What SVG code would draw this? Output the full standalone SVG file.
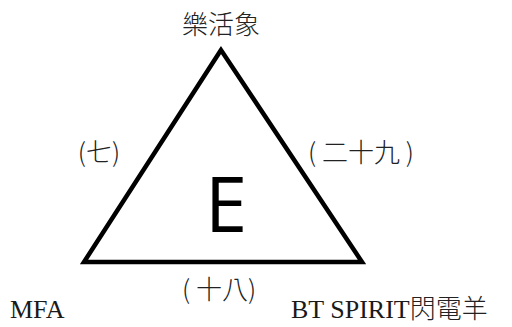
<svg xmlns="http://www.w3.org/2000/svg" width="512" height="327" viewBox="0 0 512 327">
<style>
.t{font-family:"Liberation Serif","Noto Sans CJK TC",serif;font-size:26px;fill:#1a1a1a}
.c{font-family:"Noto Sans CJK TC","Liberation Serif",serif;font-size:26px;fill:#222;font-weight:300}
</style>
<rect width="512" height="327" fill="#fff"/>
<g id="triangle">
<polygon points="221,50 84,262 362,262" fill="none" stroke="#000" stroke-width="4.5" stroke-linejoin="miter"/>
</g>
<g id="center"><text x="226" y="232" text-anchor="middle" font-family="Open Sans, Liberation Sans, sans-serif" font-size="76" fill="#000">E</text></g>
<g id="top"><text class="c" x="221" y="34" text-anchor="middle">樂活象</text></g>
<g id="left-edge"><text class="c" x="99" y="162" text-anchor="middle">(七)</text></g>
<g id="right-edge"><text class="c" x="308" y="162">( 二十九 )</text></g>
<g id="bottom-edge"><text class="c" x="182" y="299">( 十八)</text></g>
<g id="mfa"><text class="t" x="10" y="318">MFA</text></g>
<g id="bt"><text class="t" x="291" y="318">BT SPIRIT<tspan class="c">閃電羊</tspan></text></g>
</svg>
